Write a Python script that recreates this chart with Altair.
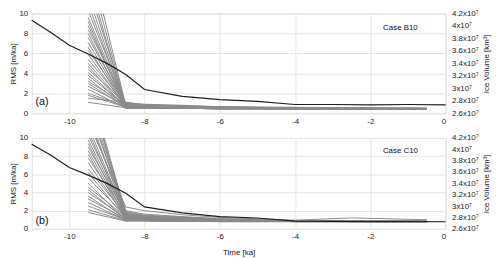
import altair as alt
import pandas as pd

# ---------------- data ----------------
T_GREY = [-9.5, -8.5, -8, -7, -6, -4, -2.5, -0.5]

# Panel (a) - Case B10 : RMS [m/ka] of each ensemble member at each time
A_95 = [1.1, 1.5, 1.8, 2.0, 2.4, 2.7, 3.0, 3.2, 3.5, 3.8, 4.1, 4.4, 4.7, 5.0, 5.4, 5.9,
        6.3, 6.6, 7.1, 7.6, 8.0, 8.4, 8.8, 9.2, 9.6, 10.3, 11.0, 11.8, 12.7, 13.6, 14.8, 16.2]
A_85 = [0.55, 1.1, 0.6, 0.7, 0.5, 0.8, 0.6, 0.9, 0.55, 0.75, 0.65, 1.0, 0.5, 0.7, 0.85, 0.6,
        0.95, 0.55, 0.7, 0.8, 0.6, 1.05, 0.65, 0.5, 0.75, 0.9, 0.6, 0.7, 0.85, 0.55, 0.65, 0.8]
A_80 = [0.5, 0.85, 0.55, 0.65, 0.5, 0.7, 0.55, 0.8, 0.5, 0.7, 0.6, 0.85, 0.5, 0.65, 0.75, 0.55,
        0.8, 0.5, 0.65, 0.7, 0.55, 0.9, 0.6, 0.5, 0.7, 0.8, 0.55, 0.65, 0.75, 0.5, 0.6, 0.7]
A_70 = [0.5, 0.7, 0.5, 0.6, 0.5, 0.65, 0.5, 0.7, 0.5, 0.6, 0.55, 0.75, 0.5, 0.6, 0.65, 0.5,
        0.7, 0.5, 0.6, 0.65, 0.5, 0.8, 0.55, 0.5, 0.6, 0.7, 0.5, 0.6, 0.65, 0.5, 0.55, 0.6]
A_60 = [0.45, 0.6, 0.5, 0.55, 0.45, 0.55, 0.5, 0.6, 0.45, 0.55, 0.5, 0.65, 0.45, 0.55, 0.6, 0.5,
        0.6, 0.45, 0.55, 0.55, 0.5, 0.65, 0.5, 0.45, 0.55, 0.6, 0.5, 0.5, 0.55, 0.45, 0.5, 0.55]
A_40 = [0.45, 0.55, 0.45, 0.5, 0.45, 0.5, 0.45, 0.55, 0.45, 0.5, 0.5, 0.55, 0.45, 0.5, 0.55, 0.45,
        0.55, 0.45, 0.5, 0.5, 0.45, 0.6, 0.5, 0.45, 0.5, 0.55, 0.45, 0.5, 0.5, 0.45, 0.5, 0.5]
A_25 = [0.45, 0.5, 0.45, 0.5, 0.45, 0.5, 0.45, 0.5, 0.45, 0.5, 0.45, 0.55, 0.45, 0.5, 0.5, 0.45,
        0.5, 0.45, 0.5, 0.5, 0.45, 0.55, 0.45, 0.45, 0.5, 0.5, 0.45, 0.5, 0.5, 0.45, 0.45, 0.5]
A_05 = [0.4, 0.45, 0.4, 0.45, 0.4, 0.45, 0.4, 0.5, 0.4, 0.45, 0.45, 0.5, 0.4, 0.45, 0.45, 0.4,
        0.5, 0.4, 0.45, 0.45, 0.4, 0.5, 0.45, 0.4, 0.45, 0.5, 0.4, 0.45, 0.45, 0.4, 0.45, 0.45]

# Panel (b) - Case C10
B_95 = [1.8, 2.1, 2.5, 2.9, 3.3, 3.6, 4.0, 4.3, 4.6, 5.0, 5.6, 6.2, 6.6, 7.3, 7.8, 8.2,
        8.6, 9.0, 9.4, 9.8, 10.3, 10.8, 11.3, 11.8, 12.3, 12.8, 13.4, 14.0, 14.6, 15.2, 15.8, 16.4]
B_85 = [0.85, 0.9, 1.0, 0.95, 1.1, 0.9, 1.2, 1.0, 1.3, 0.95, 1.4, 1.1, 1.5, 1.2, 1.6, 1.0,
        1.3, 1.7, 1.1, 1.5, 1.8, 1.2, 1.4, 2.4, 1.6, 1.3, 1.9, 1.5, 1.7, 2.0, 1.4, 1.6]
B_80 = [0.85, 0.9, 0.95, 0.9, 1.0, 0.9, 1.05, 0.95, 1.1, 0.9, 1.2, 1.0, 1.25, 1.05, 1.3, 0.95,
        1.1, 1.4, 1.0, 1.25, 1.45, 1.05, 1.2, 2.0, 1.3, 1.1, 1.5, 1.25, 1.4, 1.6, 1.15, 1.3]
B_70 = [0.8, 0.85, 0.85, 0.85, 0.9, 0.85, 0.95, 0.9, 1.0, 0.85, 1.05, 0.9, 1.1, 0.95, 1.15, 0.9,
        1.0, 1.2, 0.9, 1.1, 1.25, 0.95, 1.05, 1.55, 1.15, 1.0, 1.3, 1.1, 1.2, 1.35, 1.05, 1.15]
B_60 = [0.8, 0.8, 0.8, 0.8, 0.85, 0.8, 0.85, 0.85, 0.9, 0.8, 0.95, 0.85, 0.95, 0.85, 1.0, 0.85,
        0.9, 1.05, 0.85, 0.95, 1.05, 0.85, 0.9, 1.25, 1.0, 0.9, 1.1, 0.95, 1.0, 1.1, 0.9, 0.95]
B_40 = [0.8, 0.8, 0.8, 0.8, 0.8, 0.8, 0.85, 0.8, 0.85, 0.8, 0.85, 0.8, 0.85, 0.8, 0.9, 0.8,
        0.85, 0.9, 0.8, 0.85, 0.9, 0.8, 0.85, 0.95, 0.85, 0.85, 0.9, 0.85, 0.85, 0.9, 0.85, 0.85]
B_25 = [0.8, 0.8, 0.8, 0.8, 0.8, 0.8, 0.8, 0.8, 0.85, 0.8, 0.85, 0.8, 0.85, 0.8, 0.85, 0.8,
        0.8, 0.85, 0.8, 0.85, 0.9, 0.8, 0.85, 1.2, 0.85, 0.8, 0.9, 0.85, 0.85, 0.9, 0.8, 0.85]
B_05 = [0.8, 0.8, 0.8, 0.8, 0.8, 0.8, 0.8, 0.8, 0.8, 0.8, 0.85, 0.8, 0.85, 0.8, 0.85, 0.8,
        0.8, 0.85, 0.8, 0.85, 0.85, 0.8, 0.8, 1.0, 0.85, 0.8, 0.85, 0.8, 0.85, 0.85, 0.8, 0.8]

# Ice volume [km^3] (black line, right axis)
T_BLACK = [-11, -10.5, -10, -9.5, -9, -8.5, -8, -7, -6, -5, -4, -3, -2, -1, 0]
A_VOL = [4.09e7, 3.90e7, 3.69e7, 3.55e7, 3.40e7, 3.22e7, 2.98e7, 2.87e7, 2.82e7, 2.79e7,
         2.74e7, 2.74e7, 2.735e7, 2.74e7, 2.735e7]
B_VOL = [4.09e7, 3.90e7, 3.68e7, 3.545e7, 3.40e7, 3.225e7, 2.985e7, 2.88e7, 2.815e7, 2.79e7,
         2.735e7, 2.73e7, 2.728e7, 2.728e7, 2.725e7]

RMS_TICKS = [0, 2, 4, 6, 8, 10]
VOL_TICKS = [2.6e7, 2.8e7, 3.0e7, 3.2e7, 3.4e7, 3.6e7, 3.8e7, 4.0e7, 4.2e7]
TIME_TICKS = [-10, -8, -6, -4, -2, 0]

FONT = "Liberation Sans"


def grey_frame(cols):
    rows = []
    n = len(cols[0])
    for i in range(n):
        for t, col in zip(T_GREY, cols):
            rows.append({"member": i, "t": t, "rms": col[i]})
    return pd.DataFrame(rows)


def panel(cols, vols, tag, case, tag_y, case_y, height, show_title):
    grey = grey_frame(cols)
    black = pd.DataFrame({"t": T_BLACK, "vol": vols})
    labels = pd.DataFrame({"t": [-10.9, -1.2], "rms": [tag_y, case_y], "txt": [tag, case],
                           "kind": ["tag", "case"]})

    xaxis = alt.Axis(values=TIME_TICKS, title="Time [ka]" if show_title else None,
                     grid=True, gridColor="#e4e4e4", ticks=False, domain=False,
                     labelPadding=4, labelFontSize=8, labelFont=FONT, labelColor="#222",
                     labelOverlap=False,
                     titleFont=FONT, titleFontSize=8, titleFontWeight="normal",
                     titleColor="#222", titlePadding=8,
                     labelExpr="replace(datum.label, '\u2212', '-')")
    xscale = alt.Scale(domain=[-11, 0], nice=False, zero=False)
    xenc = alt.X("t:Q", scale=xscale, axis=xaxis)

    yaxis = alt.Axis(values=RMS_TICKS, title="RMS [m/ka]", grid=True, gridColor="#e4e4e4",
                     ticks=False, domain=False, labelPadding=4, labelFontSize=8,
                     labelOverlap=False, labelFlush=False,
                     labelFont=FONT, labelColor="#222", titleFont=FONT, titleFontSize=8,
                     titleFontWeight="normal", titleColor="#222", titlePadding=2)
    yscale = alt.Scale(domain=[0, 10], nice=False, zero=False)
    yenc = alt.Y("rms:Q", scale=yscale, axis=yaxis)

    lines = alt.Chart(grey).mark_line(color="#8a8a8a", strokeWidth=1, clip=True).encode(
        x=xenc, y=yenc, detail="member:N")
    tag_txt = alt.Chart(labels[labels.kind == "tag"]).mark_text(
        align="left", baseline="middle", font=FONT, fontSize=11, color="#111").encode(
        x=xenc, y=yenc, text="txt:N")
    case_txt = alt.Chart(labels[labels.kind == "case"]).mark_text(
        align="center", baseline="middle", font=FONT, fontSize=8, color="#111").encode(
        x=xenc, y=yenc, text="txt:N")
    left = alt.layer(lines, tag_txt, case_txt)

    blk = alt.Chart(black).mark_line(color="#1e1e1e", strokeWidth=1.2).encode(
        x=xenc,
        y=alt.Y("vol:Q", scale=alt.Scale(domain=[2.6e7, 4.2e7], nice=False, zero=False),
                axis=alt.Axis(orient="right", values=VOL_TICKS, title="Ice Volume [km\u00b3]",
                              grid=False, ticks=False, domain=False, labelPadding=6,
                              labelFontSize=8, labelFont=FONT, labelColor="#222",
                              labelOverlap=False,
                              titleFont=FONT, titleFontSize=8, titleFontWeight="normal",
                              titleColor="#222", titlePadding=5, titleAngle=270,
                              titleBaseline="top",
                              labelExpr="format(round(datum.value/1e6)/10, '~g') + 'x10\u2077'")),
    )
    return alt.layer(left, blk).resolve_scale(y="independent").properties(width=419, height=height)


pa = panel([A_95, A_85, A_80, A_70, A_60, A_40, A_25, A_05], A_VOL, "(a)", "Case B10", 1.1, 8.5, 101, False)
pb = panel([B_95, B_85, B_80, B_70, B_60, B_40, B_25, B_05], B_VOL, "(b)", "Case C10", 0.9, 8.6, 92, True)

chart = alt.vconcat(pa, pb, spacing=7).properties(
    padding={"left": 0, "top": -1, "right": 0, "bottom": 0}
).configure_view(stroke="#9a9a9a", strokeWidth=1).configure(background="white")

chart.save("out.html", embed_options={"renderer": "svg", "actions": False})
